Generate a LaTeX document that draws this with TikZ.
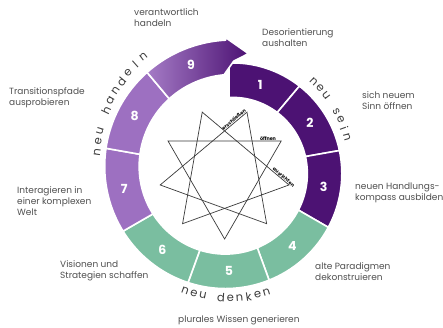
\documentclass[tikz,border=0pt]{standalone}
\usepackage{fontspec}
\setmainfont{Poppins}
\definecolor{dpurp}{HTML}{4C1273}
\definecolor{lpurp}{HTML}{9D70C1}
\definecolor{mgreen}{HTML}{7ABEA0}
\definecolor{txtgray}{HTML}{505050}
\definecolor{arcgray}{HTML}{3D3D3D}
\definecolor{starline}{HTML}{3A3A3A}
\begin{document}
\begin{tikzpicture}[x=1pt,y=1pt,
  seg/.style={draw=white, line width=1.6pt, line join=round},
  num/.style={text=white, font=\fontsize{12.5}{14}\selectfont\bfseries, inner sep=0pt},
  lab/.style={text=txtgray, font=\fontsize{9}{10.9}\selectfont, align=left, anchor=west, inner sep=0pt},
  arcl/.style={text=arcgray, font=\fontsize{11.5}{12}\selectfont, inner sep=0pt},
  starl/.style={draw=starline, line width=0.7pt, line join=miter},
  slab/.style={font=\fontsize{4.8}{5}\selectfont\bfseries, inner sep=0.6pt, text=black}
]
\useasboundingbox (0,0) rectangle (443,327);
\fill[white] (0,0) rectangle (443,327);
\begin{scope}[shift={(229,157)}]
  \foreach \k/\c in {1/dpurp,2/dpurp,3/dpurp,4/mgreen,5/mgreen,6/mgreen,7/lpurp,8/lpurp}{
    \pgfmathsetmacro\ta{40*(\k-1)}
    \pgfmathsetmacro\tb{40*\k}
    \filldraw[seg, fill=\c] plot[domain=\ta:\tb, samples=25] ({90-\x}:{107+0.0639*\x})
      -- plot[domain=\tb:\ta, samples=25] ({90-\x}:{72.5+0.0639*\x}) -- cycle;
  }
  \shadedraw[seg, left color=lpurp!92!white, middle color=lpurp!82!dpurp, right color=dpurp]
    plot[domain=320:358.5, samples=25] ({90-\x}:{107+0.0639*\x})
    -- ({90-358.5}:132.5) -- ({90-9.5}:118) -- ({90-2.5}:109)
    -- ({90-357}:{72.5+0.0639*357})
    -- plot[domain=357:320, samples=25] ({90-\x}:{72.5+0.0639*\x}) -- cycle;
  \foreach \k in {1,...,9}{
    \node[num] (n\k) at ({90-(40*\k-20)}:{89.75+0.0639*(40*\k-20)}) {\k};
  }
  % curved labels
  \foreach \ch/\a [count=\j] in {n/46.3,e/41.9,u/37.5,s/28.7,e/24.3,i/19.9,n/15.5}{
    \node[arcl, rotate={\a-90}] (ns\j) at (\a:122.5) {\ch};
  }
  \foreach \ch/\a/\r [count=\j] in {n/172.2/133,e/167.7/133.9,u/163.2/134.8,h/154.2/136.6,a/149.7/137.5,n/145.1/138.4,d/140.6/139.3,e/136.1/140.2,l/131.6/141.1,n/127.1/142}{
    \node[arcl, rotate={\a-90}] (nh\j) at (\a:\r) {\ch};
  }
  \foreach \ch/\a [count=\j] in {n/250,e/254.1,u/258.2,d/266.4,e/270.6,n/274.7,k/278.8,e/282.9,n/287}{
    \node[arcl, rotate={\a+90}] (nd\j) at (\a:128) {\ch};
  }
\end{scope}
% star
\begin{scope}[shift={(224.6,153.4)}]
  \foreach \i in {0,...,8}{
    \coordinate (v\i) at ({270+40*\i}:65.4);
  }
\end{scope}
\draw[starl] (v0) -- (v3) -- (v6) -- cycle;
\draw[starl] (v1) -- (v4) -- (v7) -- cycle;
\draw[starl] (v2) -- (v5) -- (v8) -- cycle;
\path (v7) -- (v4) node[slab, pos=0.868, sloped, above] (le) {erschließen};
\path (v6) -- (v3) node[slab, pos=0.883, above] (lo) {öffnen};
\path (v5) -- (v2) node[slab, pos=0.92, sloped, above] (la) {ausrichten};
% outer labels
\node[lab] (t9) at (134,309.5) {verantwortlich\\handeln};
\node[lab] (t1) at (262,289) {Desorientierung\\aushalten};
\node[lab] (t2) at (362,226.5) {sich neuem\\Sinn öffnen};
\node[lab] (t3) at (355,134.5) {neuen Handlungs-\\kompass ausbilden};
\node[lab] (t4) at (315,55.5) {alte Paradigmen\\dekonstruieren};
\node[lab] (t5) at (178,7) {plurales Wissen generieren};
\node[lab] (t6) at (60,56.5) {Visionen und\\Strategien schaffen};
\node[lab] (t7) at (17,126) {Interagieren in\\einer komplexen\\Welt};
\node[lab] (t8) at (9,229.5) {Transitionspfade\\ausprobieren};
\end{tikzpicture}
\end{document}
